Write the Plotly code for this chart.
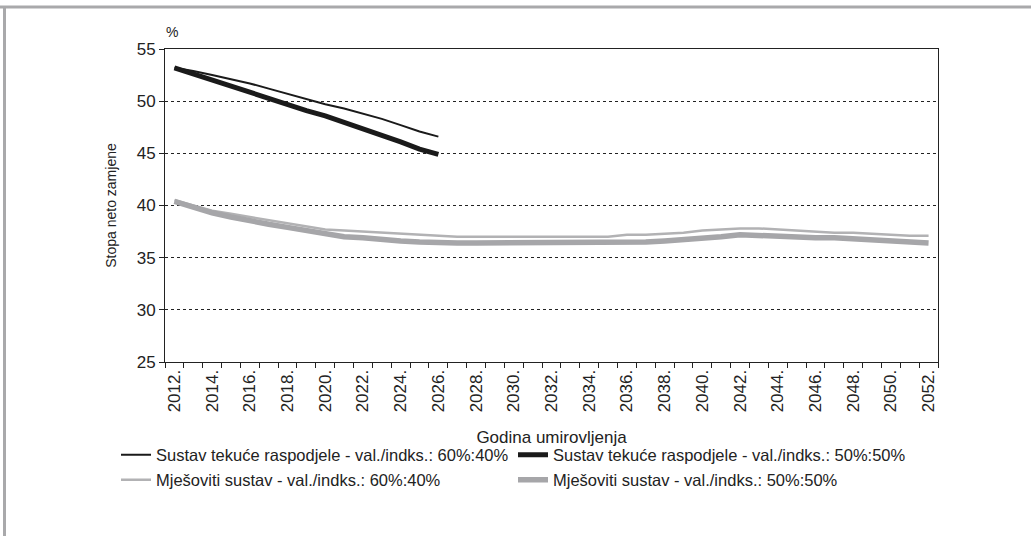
import plotly.graph_objects as go

years = list(range(2012, 2053))
years_payg = list(range(2012, 2027))

payg_60_40 = [53.2, 52.9, 52.5, 52.1, 51.7, 51.2, 50.7, 50.2, 49.7, 49.3,
              48.8, 48.3, 47.7, 47.1, 46.6]
payg_50_50 = [53.2, 52.6, 52.0, 51.4, 50.8, 50.3, 49.7, 49.1, 48.6, 48.0,
              47.3, 46.8, 46.1, 45.4, 44.9]
mixed_60_40 = [40.5, 40.0, 39.5, 39.2, 38.9, 38.6, 38.3, 38.0, 37.7, 37.6,
               37.5, 37.4, 37.3, 37.2, 37.1, 37.0, 37.0, 37.0, 37.0, 37.0,
               37.0, 37.0, 37.0, 37.0, 37.2, 37.2, 37.3, 37.4, 37.6, 37.7,
               37.8, 37.8, 37.7, 37.6, 37.5, 37.4, 37.4, 37.3, 37.2, 37.1, 37.1]
mixed_50_50 = [40.4, 39.8, 39.3, 38.9, 38.5, 38.2, 37.9, 37.6, 37.2, 37.0,
               36.9, 36.7, 36.6, 36.5, 36.4, 36.4, 36.4, 36.4, 36.4, 36.4,
               36.4, 36.4, 36.4, 36.4, 36.5, 36.5, 36.6, 36.7, 36.8, 37.0,
               37.2, 37.1, 37.1, 37.0, 36.9, 36.9, 36.8, 36.7, 36.6, 36.5, 36.4]

names = ["Sustav tekuće raspodjele - val./indks.: 60%:40%",
         "Sustav tekuće raspodjele - val./indks.: 50%:50%",
         "Mješoviti sustav - val./indks.: 60%:40%",
         "Mješoviti sustav - val./indks.: 50%:50%"]

tick_years = years[::2]
tick_text = [f"{y}." for y in tick_years]
boundaries = [y - 0.5 for y in years] + [years[-1] + 0.5]

FONT = "Liberation Sans, Arial, sans-serif"
TXT = "#222222"

fig = go.Figure()
fig.add_trace(go.Scatter(x=years_payg, y=payg_60_40, mode="lines", name=names[0],
                         line=dict(color="#1a1a1a", width=2), legend="legend"))
fig.add_trace(go.Scatter(x=years_payg, y=payg_50_50, mode="lines", name=names[1],
                         line=dict(color="#1a1a1a", width=5), legend="legend2"))
fig.add_trace(go.Scatter(x=years, y=mixed_60_40, mode="lines", name=names[2],
                         line=dict(color="#b2b2b4", width=2.5), legend="legend3"))
fig.add_trace(go.Scatter(x=years, y=mixed_50_50, mode="lines", name=names[3],
                         line=dict(color="#a6a6a9", width=5.5), legend="legend4"))

def leg(x, y):
    return dict(orientation="h", x=x, xanchor="left", y=y, yanchor="middle",
                font=dict(size=16.5, family=FONT, color=TXT),
                bgcolor="rgba(0,0,0,0)")

col1 = (116 - 165) / 773
col2 = (513 - 165) / 773
row1 = -0.297
row2 = -0.377

fig.update_layout(
    width=1031, height=536,
    margin=dict(l=165, r=93, t=49, b=174),
    paper_bgcolor="white", plot_bgcolor="white",
    font=dict(family=FONT, color=TXT, size=15),
    showlegend=True,
    legend=leg(col1, row1),
    legend2=leg(col2, row1),
    legend3=leg(col1, row2),
    legend4=leg(col2, row2),
)

fig.update_xaxes(
    range=[years[0] - 0.5, years[-1] + 0.5],
    tickmode="array", tickvals=tick_years, ticktext=tick_text,
    tickangle=-90, ticks="", tickfont=dict(size=17, family=FONT, color=TXT),
    showline=True, linecolor="#222222", linewidth=1, mirror=True,
    showgrid=False, zeroline=False,
    minor=dict(tickmode="array", tickvals=boundaries, ticks="outside",
               ticklen=5, tickcolor="#222222", tickwidth=1, showgrid=False),
    title=dict(text="Godina umirovljenja", font=dict(size=17, family=FONT, color=TXT),
               standoff=19),
)

fig.update_yaxes(
    range=[25, 55], dtick=5, tick0=25,
    ticks="outside", ticklen=5, tickcolor="#222222",
    tickfont=dict(size=17, family=FONT, color=TXT),
    showline=True, linecolor="#222222", linewidth=1, mirror=True,
    showgrid=True, gridcolor="#222222", griddash="dot", gridwidth=1,
    zeroline=False,
    title=dict(text="Stopa neto zamjene", font=dict(size=14, family=FONT, color=TXT),
               standoff=16),
)

fig.add_annotation(text="%", xref="paper", yref="paper", x=0.009, y=1.0,
                   yshift=17, xanchor="center", yanchor="middle", showarrow=False,
                   font=dict(size=14, family=FONT, color=TXT))

# outer frame lines (grey) at top and left
fig.add_shape(type="line", xref="paper", yref="paper",
              x0=-165/773, x1=(1031-165)/773, y0=(362-7)/313, y1=(362-7)/313,
              line=dict(color="#a9a9ab", width=3))
fig.add_shape(type="line", xref="paper", yref="paper",
              x0=(4.5-165)/773, x1=(4.5-165)/773, y0=(362-7)/313, y1=(362-540)/313,
              line=dict(color="#a9a9ab", width=3))

fig.write_html("out.html", config={"displayModeBar": False},
               post_script="document.body.style.margin='0';document.body.style.overflow='hidden';")
